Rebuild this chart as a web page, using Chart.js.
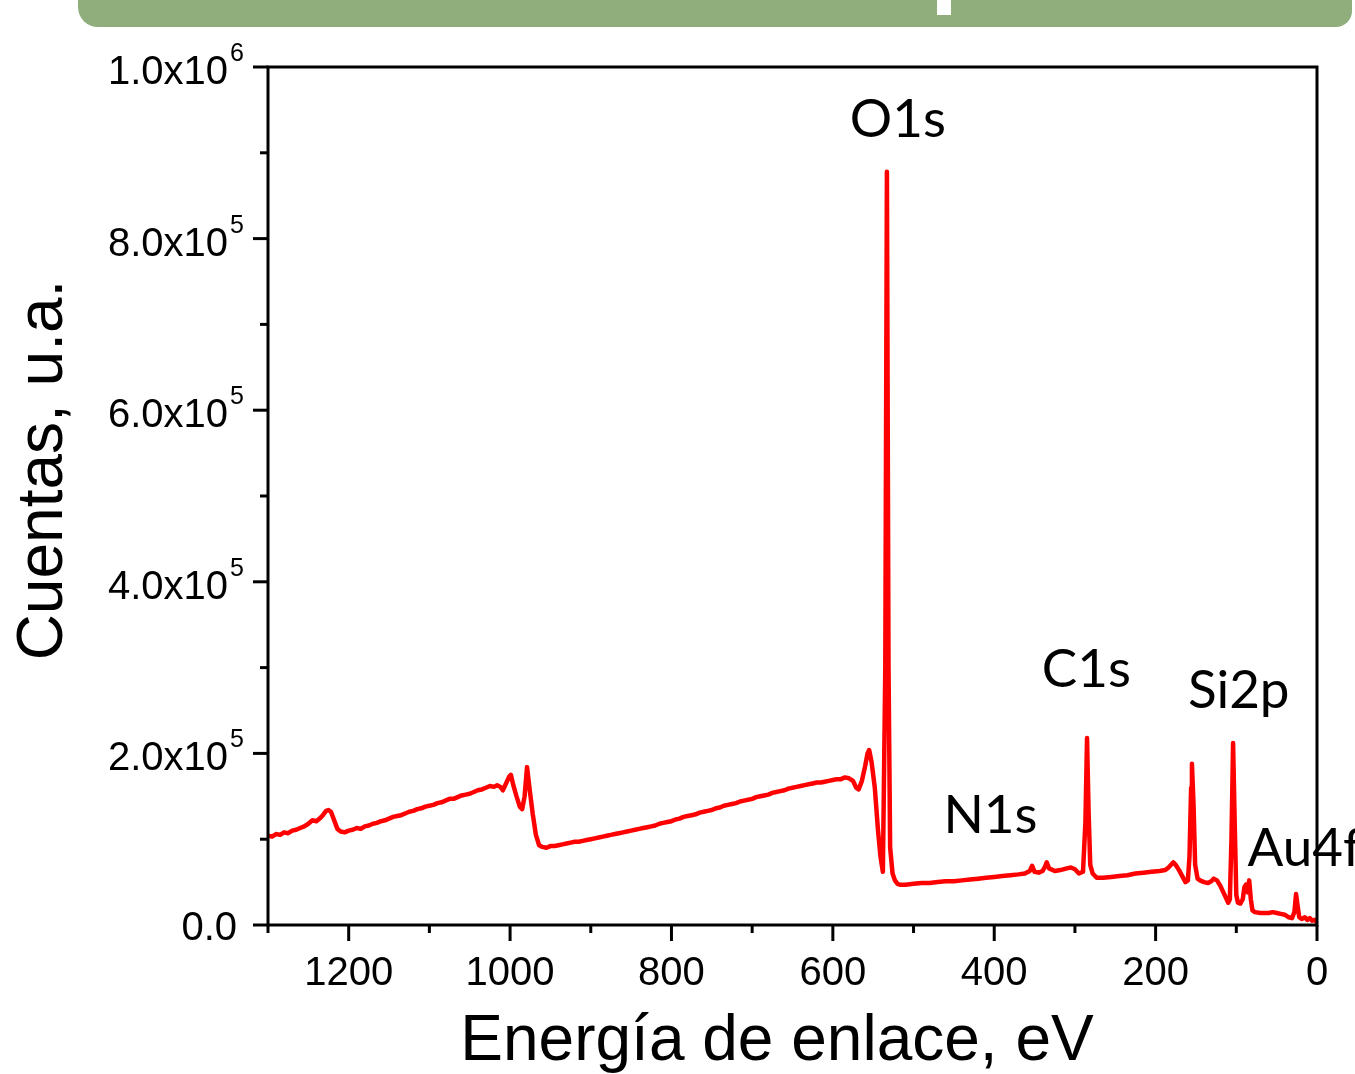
<!DOCTYPE html>
<html>
<head>
<meta charset="utf-8">
<script src="https://cdn.jsdelivr.net/npm/chart.js@4"></script>
<style>
  body { margin: 0; background: #fff; }
  #wrap { position: relative; width: 1355px; height: 1074px; overflow: hidden; }
  #band { position: absolute; left: 78px; top: -20px; width: 1274px; height: 47px;
          background: #8fae7c; border-radius: 0 0 16px 20px; }
  #notch { position: absolute; left: 937px; top: 0; width: 14px; height: 15px; background: #fff; }
  canvas { position: absolute; left: 0; top: 0; }
</style>
</head>
<body>
<div id="wrap">
  <canvas id="xps" width="1355" height="1074"></canvas>
  <div id="band"></div>
  <div id="notch"></div>
</div>
<script>
const chartEl = document.getElementById("xps");

// Data (binding energy in eV, counts)

const energy = [
  1300, 1295, 1290, 1285, 1280, 1275, 1270, 1265, 1260, 1255, 1250, 1245, 1240, 1236, 1232, 1228, 1225, 1222, 1218, 1214,
  1210, 1205, 1200, 1195, 1190, 1185, 1180, 1175, 1170, 1165, 1160, 1155, 1150, 1145, 1140, 1135, 1130, 1125, 1120, 1115,
  1110, 1105, 1100, 1095, 1090, 1085, 1080, 1075, 1070, 1065, 1060, 1055, 1050, 1045, 1040, 1035, 1030, 1025, 1020, 1016,
  1012, 1009, 1005, 1001, 999, 996, 992, 988, 985, 982, 979, 976, 972, 968, 964, 960, 955, 950, 945, 940,
  935, 930, 925, 920, 915, 910, 905, 900, 895, 890, 885, 880, 875, 870, 865, 860, 855, 850, 845, 840,
  835, 830, 825, 820, 815, 810, 805, 800, 795, 790, 785, 780, 775, 770, 765, 760, 755, 750, 745, 740,
  735, 730, 725, 720, 715, 710, 705, 700, 695, 690, 685, 680, 675, 670, 665, 660, 655, 650, 645, 640,
  635, 630, 625, 620, 615, 610, 605, 600, 595, 590, 585, 580, 575, 571, 568, 564, 560, 557, 555, 552,
  548, 544, 541, 538, 535, 533, 531, 529, 526, 523, 520, 517, 510, 500, 490, 480, 470, 460,
  450, 440, 430, 420, 410, 400, 390, 380, 370, 362, 356, 353, 350, 345, 340, 337, 335, 332, 325, 318,
  310, 305, 300, 295, 290, 287, 285, 283, 281, 278, 273, 265, 255, 245, 235, 225, 215, 205, 195, 188,
  184, 180, 178, 175, 171, 167, 163, 160, 158, 156, 155, 153, 151, 148, 145, 140, 135, 131, 128, 124,
  120, 116, 112, 110, 108, 106, 104, 102, 100, 98, 95, 92, 90, 88, 86, 84, 82, 80, 77, 70,
  60, 55, 50, 45, 40, 35, 31, 28, 26, 24, 22, 19, 15, 12, 9, 6, 3, 0
];

// counts in thousands
const counts = [
  104, 103, 106, 105, 108, 107, 110, 111, 113, 115, 118, 122, 121, 124, 128, 133, 134, 132, 122, 112,
  109, 108, 110, 111, 113, 112, 115, 116, 118, 119, 121, 122, 124, 126, 127, 128, 130, 132, 133, 135,
  136, 138, 139, 140, 142, 143, 145, 147, 147, 149, 151, 152, 153, 155, 157, 158, 160, 162, 161, 163,
  161, 157, 165, 173, 175, 163, 150, 138, 135, 150, 184, 160, 130, 105, 93, 91, 90, 92, 92, 93,
  94, 95, 96, 97, 97, 98, 99, 100, 101, 102, 103, 104, 105, 106, 107, 108, 109, 110, 111, 112,
  113, 114, 115, 116, 118, 119, 120, 121, 123, 124, 126, 127, 128, 129, 131, 132, 133, 134, 136, 137,
  139, 140, 141, 142, 144, 145, 146, 147, 149, 150, 151, 152, 154, 155, 156, 157, 159, 160, 161, 162,
  163, 164, 165, 166, 166, 167, 168, 169, 170, 170, 172, 171, 168, 160, 158, 168, 185, 200, 204, 190,
  160, 110, 80, 62, 300, 878, 300, 90, 60, 52, 48, 47, 47, 48, 49, 49, 50, 51,
  51, 52, 53, 54, 55, 56, 57, 58, 59, 60, 63, 69, 62, 61, 63, 68, 73, 66, 63, 64,
  66, 67, 65, 60, 62, 120, 218, 130, 70, 60, 55, 55, 56, 57, 58, 60, 61, 62, 63, 64,
  67, 71, 73, 70, 64, 57, 50, 52, 80, 160, 188, 140, 70, 54, 52, 50, 49, 51, 54, 52,
  46, 38, 30, 26, 30, 100, 212, 120, 35, 26, 25, 30, 44, 47, 38, 52, 30, 17, 15, 14,
  14, 15, 14, 13, 12, 9, 8, 15, 36, 22, 9, 7, 9, 6, 8, 5, 6, 3
];

const xTicks = [1200, 1000, 800, 600, 400, 200, 0];
const yTicks = [0, 200000, 400000, 600000, 800000, 1000000];
const yTickText = ["0.0", "2.0x10", "4.0x10", "6.0x10", "8.0x10", "1.0x10"];
const yTickExp = ["", "5", "5", "5", "5", "6"];

// label anchor: [eV at left edge, counts at baseline]
const peakNames = ["O1s", "C1s", "Si2p", "N1s", "Au4f"];
const peakLabelAt = [[579, 918000], [341, 277000], [160, 253000], [463, 107000], [86, 69000]];

const xTitle = "Energía de enlace, eV";
const yTitle = "Cuentas, u.a.";

const points = energy.map((e, i) => ({ x: e, y: counts[i] * 1000 }));

// Axes, frame, labels

const frameDecor = {
  id: "frameDecor",
  afterDatasetsDraw(chart) {
    const ctx = chart.ctx;
    const a = chart.chartArea;
    const xs = chart.scales.x;
    const ys = chart.scales.y;
    ctx.save();
    ctx.strokeStyle = "#000";
    ctx.fillStyle = "#000";
    ctx.lineWidth = 3;
    ctx.strokeRect(a.left, a.top, a.right - a.left, a.bottom - a.top);

    // y ticks
    for (let v = 0; v <= 1000000; v += 100000) {
      const py = ys.getPixelForValue(v);
      const len = (v % 200000 === 0) ? 15 : 8;
      ctx.beginPath();
      ctx.moveTo(a.left - len, py);
      ctx.lineTo(a.left, py);
      ctx.stroke();
    }
    // x ticks
    for (let v = 0; v <= 1300; v += 100) {
      const px = xs.getPixelForValue(v);
      const len = (v % 200 === 0) ? 16 : 8;
      ctx.beginPath();
      ctx.moveTo(px, a.bottom);
      ctx.lineTo(px, a.bottom + len);
      ctx.stroke();
    }

    // x tick labels
    ctx.font = "40px 'Liberation Sans', Arial, sans-serif";
    ctx.textAlign = "center";
    ctx.textBaseline = "alphabetic";
    xTicks.forEach(v => ctx.fillText(String(v), xs.getPixelForValue(v), a.bottom + 60));

    // y tick labels with superscript exponent
    yTicks.forEach((v, i) => {
      const py = ys.getPixelForValue(v);
      if (!yTickExp[i]) {
        ctx.font = "40px 'Liberation Sans', Arial, sans-serif";
        ctx.textAlign = "right";
        ctx.fillText(yTickText[i], a.left - 31, py + 15);
        return;
      }
      ctx.font = "25px 'Liberation Sans', Arial, sans-serif";
      ctx.textAlign = "right";
      const supW = ctx.measureText(yTickExp[i]).width;
      ctx.fillText(yTickExp[i], a.left - 24, py - 6);
      ctx.font = "40px 'Liberation Sans', Arial, sans-serif";
      ctx.fillText(yTickText[i], a.left - 26 - supW, py + 17);
    });

    // axis titles
    ctx.font = "64px 'Liberation Sans', Arial, sans-serif";
    ctx.textAlign = "center";
    ctx.fillText(xTitle, 777, 1060);
    ctx.save();
    ctx.translate(62, 470);
    ctx.rotate(-Math.PI / 2);
    ctx.fillText(yTitle, 0, 0);
    ctx.restore();

    // peak labels
    ctx.font = "53px Lato, 'Open Sans', sans-serif";
    ctx.textAlign = "left";
    peakNames.forEach((name, i) => {
      const p = peakLabelAt[i];
      ctx.fillText(name, xs.getPixelForValue(p[0]), ys.getPixelForValue(p[1]));
    });
    ctx.restore();
  }
};

// Configuration

let xpsConfig = {
  type: "line",
  data: {
    datasets: [{
      label: "XPS",
      data: points,
      borderColor: "#ff0000",
      borderWidth: 4.5,
      borderJoinStyle: "round",
      borderCapStyle: "round",
      pointRadius: 0,
      fill: false,
      tension: 0,
    }],
  },
  options: {
    responsive: false,
    devicePixelRatio: 1,
    animation: false,
    layout: { padding: { left: 268, top: 67, right: 38, bottom: 149 } },
    plugins: {
      legend: { display: false },
      tooltip: { enabled: false },
    },
    scales: {
      x: { type: "linear", min: 0, max: 1300, reverse: true, display: false },
      y: { type: "linear", min: 0, max: 1000000, display: false },
    },
  },
  plugins: [frameDecor],
};

xps = new Chart(chartEl, xpsConfig);
</script>
</body>
</html>
